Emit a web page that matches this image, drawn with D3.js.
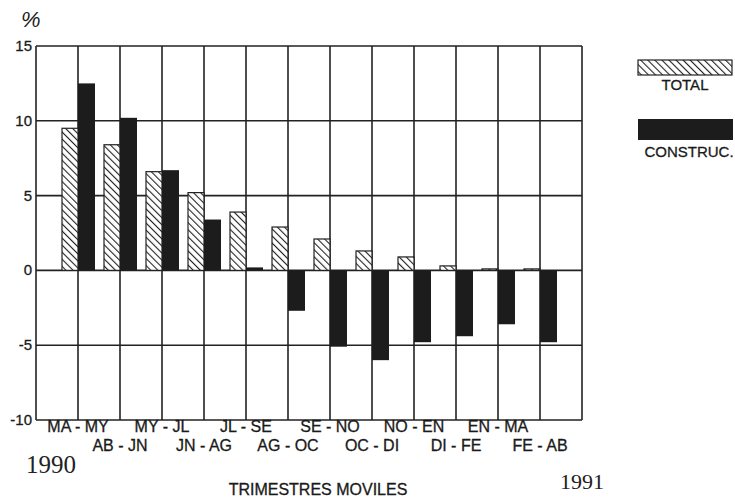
<!DOCTYPE html>
<html>
<head>
<meta charset="utf-8">
<script src="https://cdn.jsdelivr.net/npm/d3@7"></script>
<style>
  body { margin: 0; background: #fff; }
  svg { display: block; font-family: "Liberation Sans", Arial, sans-serif; }
  .grid line { stroke: #222; stroke-width: 1.6; }
  .lbl { font-size: 16px; fill: #1a1a1a; stroke: #1a1a1a; stroke-width: 0.3; }
</style>
</head>
<body>
<div id="chart"></div>
<script>
// moving quarters, 1990-1991
const periods = ['MA - MY', 'AB - JN', 'MY - JL', 'JN - AG', 'JL - SE', 'AG - OC',
                 'SE - NO', 'OC - DI', 'NO - EN', 'DI - FE', 'EN - MA', 'FE - AB'];
const total = [9.5, 8.4, 6.6, 5.2, 3.9, 2.9, 2.1, 1.3, 0.9, 0.3, 0.1, 0.1];
const construc = [12.5, 10.2, 6.7, 3.4, 0.2, -2.7, -5.1, -6.0, -4.8, -4.4, -3.6, -4.8];
const yTicks = [-10, -5, 0, 5, 10, 15];

const width = 735, height = 502;
const svg = d3.select('#chart').append('svg')
    .attr('width', width)
    .attr('height', height);

const defs = svg.append('defs');
const pat = defs.append('pattern')
    .attr('id', 'hatch')
    .attr('patternUnits', 'userSpaceOnUse')
    .attr('width', 5)
    .attr('height', 5)
    .attr('patternTransform', 'rotate(-45)');
pat.append('rect').attr('width', 5).attr('height', 5).attr('fill', '#fff');
pat.append('line')
    .attr('x1', 0).attr('y1', 0).attr('x2', 0).attr('y2', 5)
    .attr('stroke', '#222').attr('stroke-width', 2.2);

// 13 columns, groups sit on the inner column lines
const x = d3.scaleLinear().domain([0, 13]).range([36, 582]);
const y = d3.scaleLinear().domain([-10, 15]).range([420, 46]);
const barW = 16;

const grid = svg.append('g').attr('class', 'grid');
grid.selectAll('line.h')
    .data(yTicks)
    .enter().append('line')
    .attr('class', 'h')
    .attr('x1', x(0)).attr('x2', x(13))
    .attr('y1', d => y(d)).attr('y2', d => y(d));
grid.selectAll('line.v')
    .data(d3.range(14))
    .enter().append('line')
    .attr('class', 'v')
    .attr('x1', d => x(d)).attr('x2', d => x(d))
    .attr('y1', y(15)).attr('y2', y(-10));

svg.append('g').selectAll('text')
    .data(yTicks)
    .enter().append('text')
    .attr('class', 'lbl')
    .attr('x', 32)
    .attr('y', d => y(d) + 5)
    .attr('text-anchor', 'end')
    .style('font-size', '15px')
    .text(d => d);

const bars = svg.append('g');
bars.selectAll('rect.total')
    .data(total)
    .enter().append('rect')
    .attr('class', 'total')
    .attr('x', (d, i) => x(i + 1) - barW)
    .attr('y', d => y(Math.max(0, d)))
    .attr('width', barW)
    .attr('height', d => Math.abs(y(d) - y(0)))
    .attr('fill', 'url(#hatch)')
    .attr('stroke', '#222')
    .attr('stroke-width', 1.2);

bars.selectAll('rect.cons')
    .data(construc)
    .enter().append('rect')
    .attr('class', 'cons')
    .attr('x', (d, i) => x(i + 1))
    .attr('y', d => y(Math.max(0, d)))
    .attr('width', barW + 1)
    .attr('height', d => Math.abs(y(d) - y(0)))
    .attr('fill', '#1c1c1c');

// category labels, alternating rows
svg.append('g').selectAll('text')
    .data(periods)
    .enter().append('text')
    .attr('class', 'lbl')
    .attr('x', (d, i) => x(i + 1))
    .attr('y', (d, i) => i % 2 === 0 ? 432 : 451)
    .attr('text-anchor', 'middle')
    .text(d => d);

svg.append('text')
    .attr('x', 21).attr('y', 27)
    .style('font-size', '22px').style('font-style', 'italic').style('fill', '#222')
    .text('%');

svg.append('text')
    .attr('x', 26).attr('y', 473)
    .style('font-family', '"Liberation Serif", serif').style('font-size', '25px').style('fill', '#222')
    .text('1990');
svg.append('text')
    .attr('x', 560).attr('y', 489)
    .style('font-family', '"Liberation Serif", serif').style('font-size', '22px').style('fill', '#222')
    .text('1991');

svg.append('text')
    .attr('class', 'lbl')
    .attr('x', 318).attr('y', 495)
    .attr('text-anchor', 'middle')
    .text('TRIMESTRES MOVILES');

// legend
const legend = svg.append('g');
legend.append('rect')
    .attr('x', 638).attr('y', 60).attr('width', 94).attr('height', 15)
    .attr('fill', 'url(#hatch)').attr('stroke', '#222').attr('stroke-width', 1.2);
legend.append('text')
    .attr('class', 'lbl')
    .attr('x', 685).attr('y', 90)
    .attr('text-anchor', 'middle')
    .style('font-size', '15px')
    .text('TOTAL');
legend.append('rect')
    .attr('x', 638).attr('y', 119).attr('width', 95).attr('height', 21)
    .attr('fill', '#1c1c1c');
legend.append('text')
    .attr('class', 'lbl')
    .attr('x', 689).attr('y', 157)
    .attr('text-anchor', 'middle')
    .style('font-size', '15px')
    .text('CONSTRUC.');
</script>
</body>
</html>
